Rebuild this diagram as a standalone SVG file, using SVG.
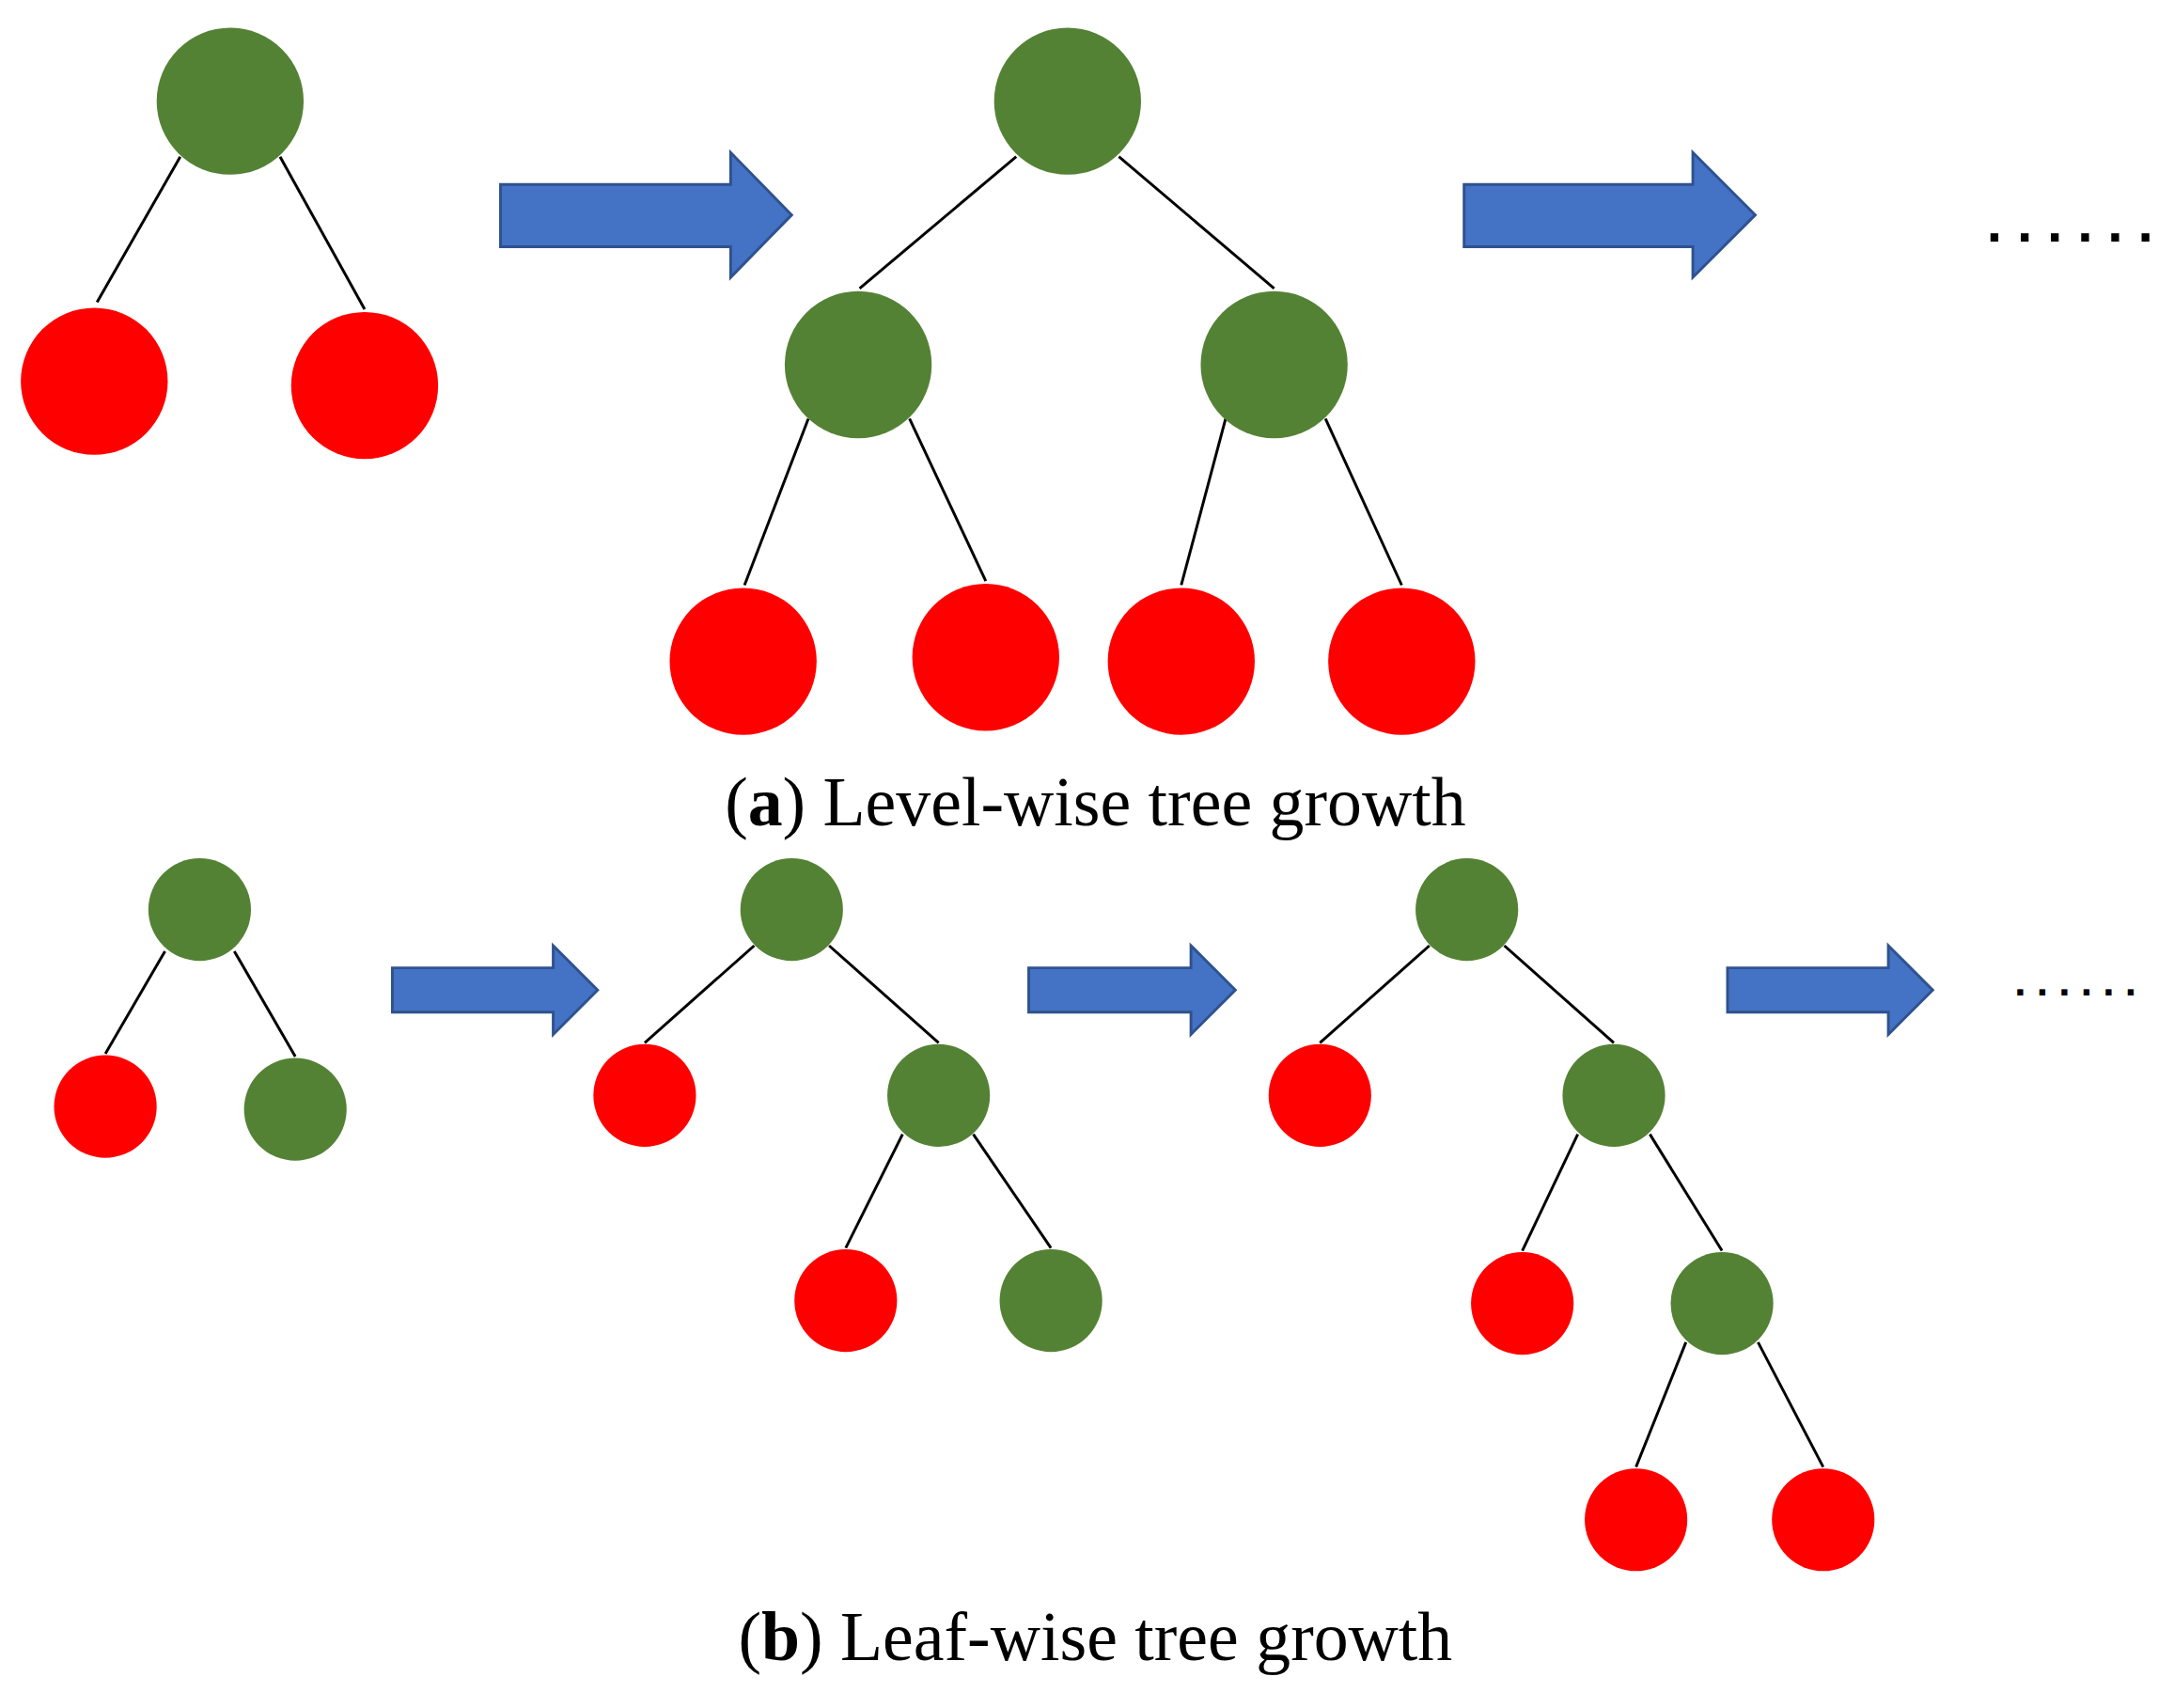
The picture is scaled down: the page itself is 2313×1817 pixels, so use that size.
<svg xmlns="http://www.w3.org/2000/svg" width="2313" height="1817" viewBox="0 0 2313 1817">
<style>
.g{fill:#548235}.r{fill:#FF0000}.e line{stroke:#000;stroke-width:2}
.a{fill:#4472C4;stroke:#2F528F;stroke-width:2}
.t{font-family:"Liberation Serif",serif;font-size:50px;fill:#000}
.d{font-family:"Liberation Sans",sans-serif;font-weight:bold;fill:#000}
</style>
<rect width="2313" height="1817" fill="#fff"/>
<g transform="scale(1.4751)">
<g id="connectors" class="e">
<line x1="130" y1="113" x2="70" y2="218"/><line x1="202" y1="113" x2="263" y2="223"/>
<line x1="733" y1="113" x2="620" y2="208"/><line x1="807" y1="113" x2="919" y2="208"/>
<line x1="583" y1="302" x2="537" y2="422"/><line x1="656" y1="302" x2="711" y2="419"/>
<line x1="884" y1="302" x2="852" y2="422"/><line x1="956" y1="302" x2="1011" y2="422"/>
<line x1="119" y1="686" x2="76" y2="760"/><line x1="169" y1="686" x2="213" y2="762"/>
<line x1="544" y1="682" x2="465" y2="752"/><line x1="598" y1="682" x2="677" y2="752"/>
<line x1="651" y1="818" x2="610" y2="900"/><line x1="702" y1="818" x2="758" y2="900"/>
<line x1="1031" y1="682" x2="952" y2="752"/><line x1="1085" y1="682" x2="1164" y2="752"/>
<line x1="1138" y1="818" x2="1098" y2="902"/><line x1="1190" y1="818" x2="1242" y2="902"/>
<line x1="1216" y1="968" x2="1180" y2="1058"/><line x1="1268" y1="968" x2="1315" y2="1058"/>
<path class="a" d="M361,133H527V110L571,155L527,200V178H361Z"/>
<path class="a" d="M1056,133H1221V110L1266,155L1221,200V178H1056Z"/>
<path class="a" d="M283,698H399V682L431,714L399,746V730H283Z"/>
<path class="a" d="M742,698H859V682L891,714L859,746V730H742Z"/>
<path class="a" d="M1246,698H1362V682L1394,714L1362,746V730H1246Z"/>
</g>
<g id="a-root"><circle class="g" cx="166" cy="73" r="53"/></g>
<g id="a-l1"><circle class="r" cx="68" cy="275" r="53"/></g>
<g id="a-l2"><circle class="r" cx="263" cy="278" r="53"/></g>
<g id="b-root"><circle class="g" cx="770" cy="73" r="53"/></g>
<g id="b-n1"><circle class="g" cx="619" cy="263" r="53"/></g>
<g id="b-n2"><circle class="g" cx="919" cy="263" r="53"/></g>
<g id="b-l1"><circle class="r" cx="536" cy="477" r="53"/></g>
<g id="b-l2"><circle class="r" cx="711" cy="474" r="53"/></g>
<g id="b-l3"><circle class="r" cx="852" cy="477" r="53"/></g>
<g id="b-l4"><circle class="r" cx="1011" cy="477" r="53"/></g>
<g id="c-root"><circle class="g" cx="144" cy="656" r="37"/></g>
<g id="c-l1"><circle class="r" cx="76" cy="798" r="37"/></g>
<g id="c-n1"><circle class="g" cx="213" cy="800" r="37"/></g>
<g id="d-root"><circle class="g" cx="571" cy="656" r="37"/></g>
<g id="d-l1"><circle class="r" cx="465" cy="790" r="37"/></g>
<g id="d-n1"><circle class="g" cx="677" cy="790" r="37"/></g>
<g id="d-l2"><circle class="r" cx="610" cy="938" r="37"/></g>
<g id="d-n2"><circle class="g" cx="758" cy="938" r="37"/></g>
<g id="e-root"><circle class="g" cx="1058" cy="656" r="37"/></g>
<g id="e-l1"><circle class="r" cx="952" cy="790" r="37"/></g>
<g id="e-n1"><circle class="g" cx="1164" cy="790" r="37"/></g>
<g id="e-l2"><circle class="r" cx="1098" cy="940" r="37"/></g>
<g id="e-n2"><circle class="g" cx="1242" cy="940" r="37"/></g>
<g id="e-l3"><circle class="r" cx="1180" cy="1096" r="37"/></g>
<g id="e-l4"><circle class="r" cx="1315" cy="1096" r="37"/></g>
<text class="d" x="1433" y="174" font-size="40" textLength="120">......</text>
<text class="d" x="1453" y="718" font-size="30" textLength="88">......</text>
<text class="t" x="790" y="595" text-anchor="middle">(<tspan font-weight="bold">a</tspan>) Level-wise tree growth</text>
<text class="t" x="790" y="1197" text-anchor="middle">(<tspan font-weight="bold">b</tspan>) Leaf-wise tree growth</text>
</g>
</svg>
